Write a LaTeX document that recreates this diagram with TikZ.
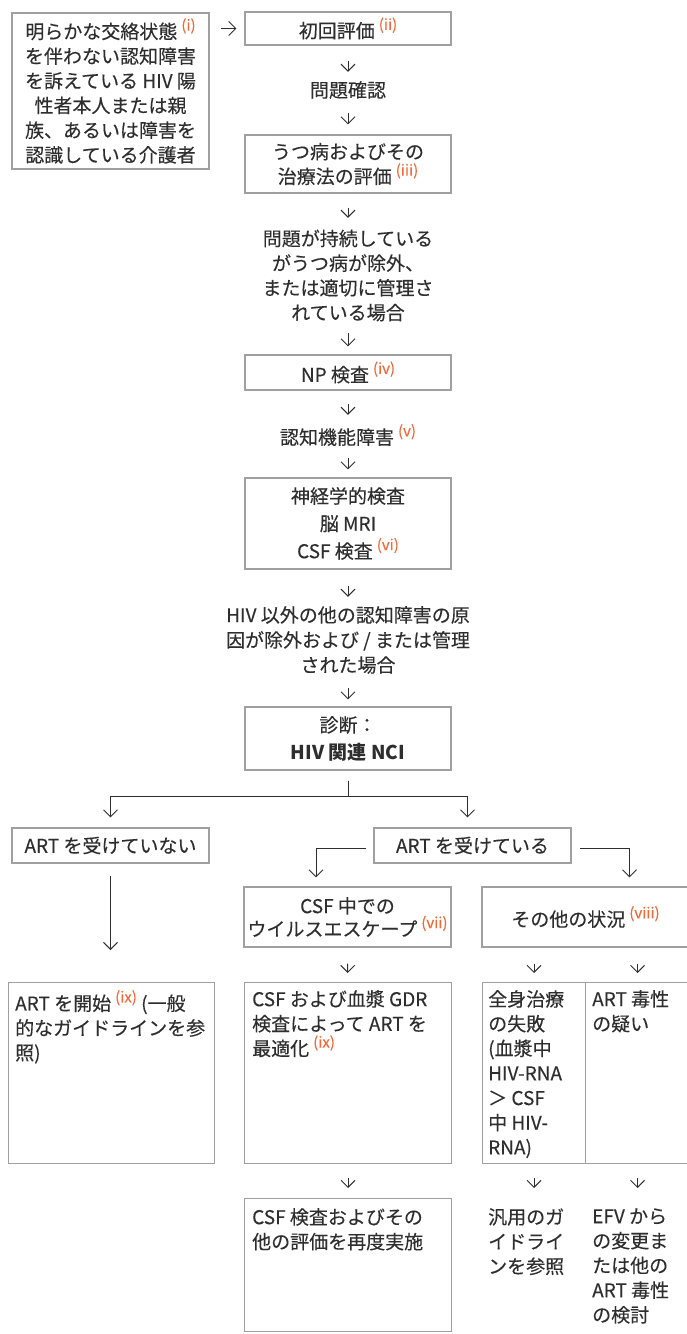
\documentclass[tikz,border=0pt]{standalone}
\usepackage{fontspec}
\setmainfont{Noto Sans CJK JP}[UprightFeatures={FakeBold=0.25}]
\usetikzlibrary{arrows.meta}
\definecolor{txt}{HTML}{2E2E2E}
\definecolor{bord}{HTML}{A0A0A0}
\definecolor{refc}{HTML}{EF6B3B}
\newcommand{\nref}[1]{\hspace{4pt}\raisebox{8pt}{\fontsize{15pt}{15pt}\selectfont\color{refc}(#1)}}
\begin{document}
\begin{tikzpicture}[x=1pt,y=-1pt,
  font=\fontsize{19pt}{24.7pt}\selectfont, text=txt,
  box/.style={draw=bord, line width=1.1pt, inner sep=0pt, align=center},
  tx/.style={inner sep=0pt, align=center},
  lt/.style={inner sep=0pt, align=left, anchor=north west},
  arr/.style={draw=txt, line width=1pt, -{Straight Barb[length=7pt,width=14pt]}}]
\useasboundingbox (0,0) rectangle (687,1334);
% top
\node[box, minimum width=197pt, minimum height=156pt] (A) at (110.5,91)
  {明らかな交絡状態\nref{i}\\を伴わない認知障害\\を訴えている HIV 陽\\性者本人または親\\族、あるいは障害を\\認識している介護者};
\node[box, minimum width=206pt, minimum height=33pt] (B) at (348,28.5) {初回評価\nref{ii}};
\node[tx, minimum height=24pt] (Q1) at (348,90) {問題確認};
\node[box, minimum width=206pt, minimum height=58pt] (C) at (348,164) {うつ病およびその\\治療法の評価\nref{iii}};
\node[tx, minimum height=100pt] (Q2) at (348,275.5) {問題が持続している\\がうつ病が除外、\\または適切に管理さ\\れている場合};
\node[box, minimum width=206pt, minimum height=35pt] (NP) at (348,372.5) {NP 検査\nref{iv}};
\node[tx, minimum height=24pt] (Q3) at (348,435) {認知機能障害\nref{v}};
\node[box, minimum width=206pt, minimum height=91pt, font=\fontsize{19pt}{27.5pt}\selectfont] (D) at (348,523.5) {神経学的検査\\脳 MRI\\CSF 検査\nref{vi}};
\node[tx, minimum height=70pt, font=\fontsize{19pt}{25pt}\selectfont] (Q4) at (348,640) {HIV 以外の他の認知障害の原\\因が除外および / または管理\\された場合};
\node[box, minimum width=206pt, minimum height=63pt, font=\fontsize{19pt}{27pt}\selectfont] (E) at (348,738.5) {診断：\\\textbf{HIV 関連 NCI}};
% second level
\node[box, minimum width=197pt, minimum height=35pt] (F) at (110.5,845.5) {ART を受けていない};
\node[box, minimum width=197pt, minimum height=35pt] (G) at (472.5,845.5) {ART を受けている};
\node[box, minimum width=207pt, minimum height=60pt, font=\fontsize{19pt}{23pt}\selectfont] (H) at (347.5,917) {CSF 中での\\ウイルスエスケープ\nref{vii}};
\node[box, minimum width=207pt, minimum height=60pt] (I) at (585.5,917) {その他の状況\nref{viii}};
% third level boxes
\node[box, minimum width=206pt, minimum height=181pt, anchor=north west] (Jb) at (8,982) {};
\node[lt] (J) at (15,990) {ART を開始\nref{ix} (一般\\的なガイドラインを参\\照)};
\node[box, minimum width=207pt, minimum height=181pt, anchor=north west] (Kb) at (244,982) {};
\node[lt] (K) at (252,990) {CSF および血漿 GDR\\検査によって ART を\\最適化\nref{ix}};
\node[box, minimum width=103pt, minimum height=181pt, anchor=north west] (Lb) at (482,982) {};
\node[lt] (L) at (488,990) {全身治療\\の失敗\\(血漿中\\HIV-RNA\\＞ CSF\\中 HIV-\\RNA)};
\node[box, minimum width=104pt, minimum height=181pt, anchor=north west] (Mb) at (585,982) {};
\node[lt] (M) at (592,990) {ART 毒性\\の疑い};
% bottom
\node[box, minimum width=207pt, minimum height=133pt, anchor=north west] (Nb) at (244,1198) {};
\node[lt] (N) at (252,1208) {CSF 検査およびその\\他の評価を再度実施};
\node[lt] (O) at (488,1208) {汎用のガ\\イドライ\\ンを参照};
\node[lt] (P) at (592,1208) {EFV から\\の変更ま\\たは他の\\ART 毒性\\の検討};
% connectors
\coordinate (sp) at (348,796);
\draw[arr, shorten <=11pt, shorten >=8pt] (A.east |- B.west) -- (B.west);
\draw[arr, shorten <=15pt, shorten >=6pt] (B) -- (Q1);
\draw[arr, shorten <=11pt, shorten >=10pt] (Q1) -- (C);
\draw[arr, shorten <=14pt, shorten >=7.5pt] (C) -- (Q2);
\draw[arr, shorten <=7.5pt, shorten >=8pt] (Q2) -- (NP);
\draw[arr, shorten <=13pt, shorten >=8pt] (NP) -- (Q3);
\draw[arr, shorten <=11pt, shorten >=8pt] (Q3) -- (D);
\draw[arr, shorten <=16pt, shorten >=8pt] (D) -- (Q4);
\draw[arr, shorten <=13pt, shorten >=7pt] (Q4) -- (E);
\draw[arr, shorten <=10pt, shorten >=10pt] (E.south) -- (E.south |- sp) -| (F.north);
\draw[arr, shorten <=10pt, shorten >=10pt] (E.south) -- (E.south |- sp) -| ([xshift=-5pt]G.north);
\draw[arr, shorten <=7pt, shorten >=9pt] ([yshift=-2.5pt]G.west) -| ([xshift=-31.5pt]H.north);
\draw[arr, shorten <=8.5pt, shorten >=9pt] ([yshift=-2.5pt]G.east) -| ([xshift=44pt]I.north);
\draw[arr, shorten <=12pt, shorten >=32pt] (F.south) -- (F.south |- Jb.north);
\draw[arr, shorten <=16pt, shorten >=9pt] (H) -- (Kb);
\draw[arr, shorten <=16pt, shorten >=9pt] (I.south -| Lb.north) -- (Lb.north);
\draw[arr, shorten <=16pt, shorten >=9pt] (I.south -| Mb.north) -- (Mb.north);
\draw[arr, shorten <=14pt, shorten >=10pt] (Kb) -- (Nb);
\draw[arr, shorten <=14pt, shorten >=20pt] (Lb.south) -- (Lb.south |- O.north);
\draw[arr, shorten <=14pt, shorten >=20pt] (Mb.south) -- (Mb.south |- P.north);
\end{tikzpicture}
\end{document}
